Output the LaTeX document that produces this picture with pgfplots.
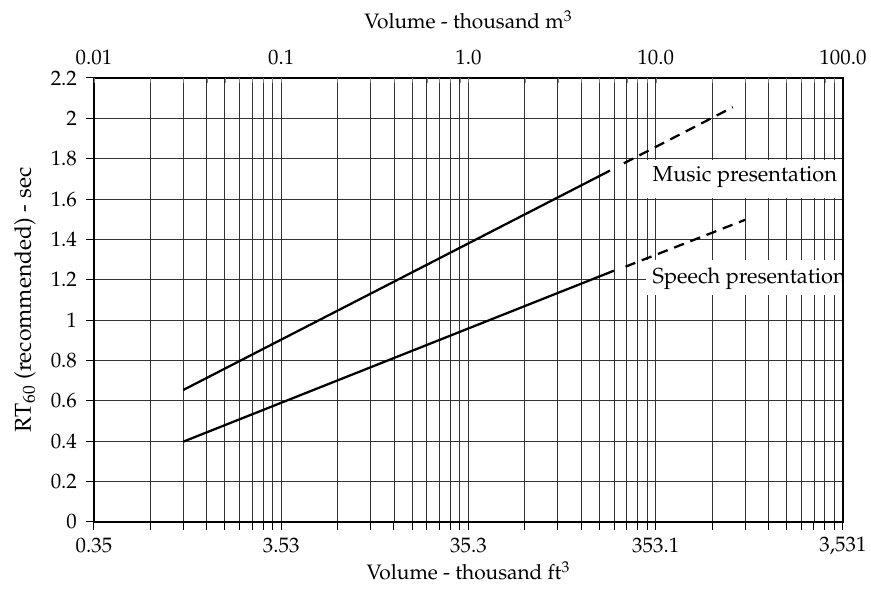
\documentclass[border=0pt]{standalone}
\usepackage[T1]{fontenc}
\usepackage{mathpazo}
\usepackage{pgfplots}
\pgfplotsset{compat=1.18}
\begin{document}
\begin{tikzpicture}
\path[use as bounding box] (-54pt,-40.2pt) rectangle (446.6pt,300pt);
\begin{axis}[
  at={(0pt,0pt)}, anchor=south west,
  width=430.5pt, height=255.2pt, scale only axis,
  xmode=log, xmin=0.01, xmax=100, ymin=0, ymax=2.2,
  tick label style={font=\fontsize{12}{14}\selectfont},
  xtick={0.01,0.1,1,10,100},
  xticklabels={0.35,3.53,35.3,353.1,{3,531}},
  minor xtick={0.02,0.03,0.04,0.05,0.06,0.07,0.08,0.09,0.2,0.3,0.4,0.5,0.6,0.7,0.8,0.9,2,3,4,5,6,7,8,9,20,30,40,50,60,70,80,90},
  ytick={0,0.2,0.4,0.6,0.8,1,1.2,1.4,1.6,1.8,2,2.2},
  yticklabels={0,0.2,0.4,0.6,0.8,1,1.2,1.4,1.6,1.8,2,2.2},
  grid=both,
  major grid style={black!80, line width=0.5pt},
  minor grid style={black!80, line width=0.5pt},
  axis line style={black, line width=0.8pt},
  tick pos=left,
  tick align=outside,
  major tick length=4.6pt, minor tick length=4.6pt,
  major tick style={black, line width=0.6pt},
  minor tick style={black, line width=0.6pt},
  xticklabel style={anchor=center, yshift=-9.2pt},
  yticklabel style={anchor=east, xshift=-1.7pt},
  xlabel={Volume - thousand ft$^3$},
  ylabel={RT$_{60}$ (recommended) - sec},
  every axis x label/.style={at={(axis description cs:0.5,0)}, anchor=center, yshift=-28pt, font=\fontsize{12}{14}\selectfont},
  every axis y label/.style={at={(axis description cs:-0.092,0.5)}, anchor=center, rotate=90, font=\fontsize{13.2}{15}\selectfont},
]
\addplot[black, line width=1.3pt] coordinates {(0.03,0.654) (5.7,1.741)};
\addplot[black, line width=1.3pt, dash pattern=on 6pt off 4pt] coordinates {(6.76,1.777) (25.8,2.055)};
\addplot[black, line width=1.3pt] coordinates {(0.03,0.398) (5.98,1.245)};
\addplot[black, line width=1.3pt, dash pattern=on 6pt off 4pt] coordinates {(6.9,1.265) (30,1.497)};
\fill[white] (axis cs:8.9,1.605) rectangle (axis cs:98.5,1.795);
\fill[white] (axis cs:8.9,1.125) rectangle (axis cs:98.5,1.30);
\node[anchor=west, inner sep=0pt, font=\fontsize{12.5}{14}\selectfont] at (axis cs:9.6,1.71) {Music presentation};
\node[anchor=west, inner sep=0pt, font=\fontsize{12.5}{14}\selectfont] at (axis cs:9.6,1.205) {Speech presentation};
\end{axis}
\begin{axis}[
  at={(0pt,0pt)}, anchor=south west,
  width=430.5pt, height=255.2pt, scale only axis,
  xmode=log, xmin=0.01, xmax=100, ymin=0, ymax=2.2,
  tick label style={font=\fontsize{12}{14}\selectfont},
  axis x line*=top, hide y axis,
  xtick={0.01,0.1,1,10,100},
  xticklabels={0.01,0.1,1.0,10.0,100.0},
  minor xtick={}, ytick=\empty,
  major tick length=0pt,
  axis line style={draw=none},
  xticklabel style={anchor=center, yshift=11.5pt},
  xlabel={Volume - thousand m$^3$},
  every axis x label/.style={at={(axis description cs:0.5,1)}, anchor=center, yshift=33.3pt, font=\fontsize{12}{14}\selectfont},
]
\end{axis}
\end{tikzpicture}
\end{document}
